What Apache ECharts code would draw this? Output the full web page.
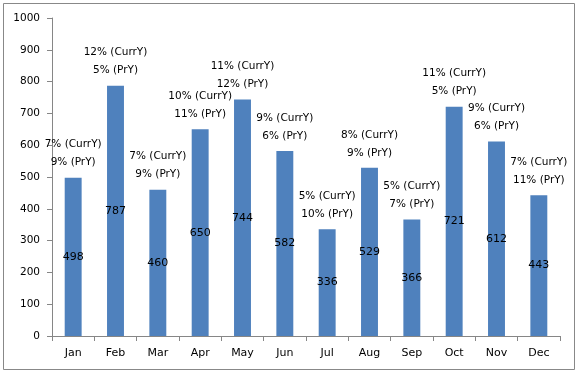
<!DOCTYPE html>
<html>
<head>
<meta charset="utf-8">
<script src="https://cdn.jsdelivr.net/npm/echarts@6/dist/echarts.min.js"></script>
<style>
    html, body { margin: 0; padding: 0; background: #fff; }
    #chart { width: 579px; height: 375px; }
</style>
</head>
<body>
<div id="chart"></div>
<script>
// data
const months = ['Jan','Feb','Mar','Apr','May','Jun','Jul','Aug','Sep','Oct','Nov','Dec']
const sales = [498, 787, 460, 650, 744, 582, 336, 529, 366, 721, 612, 443]
const currY = [7, 12, 7, 10, 11, 9, 5, 8, 5, 11, 9, 7]
const prY = [9, 5, 9, 11, 12, 6, 10, 9, 7, 5, 6, 11]
const yTicks = [0, 1000, 100]

const fontFam = 'DejaVu Sans, Verdana, sans-serif'
const chart = echarts.init(document.getElementById('chart'))

const option = {
    animation: false,
    backgroundColor: '#fff',
    textStyle: { fontFamily: fontFam },
    graphic: [
        {
            type: 'rect',
            shape: { x: 3.5, y: 3.5, width: 571, height: 366 },
            style: { fill: 'none', stroke: '#888', lineWidth: 1 },
            z: 0
        }
    ],
    grid: { left: 52, right: 19, top: 18, bottom: 39 },
    xAxis: {
        type: 'category',
        data: months,
        axisLine: { lineStyle: { color: '#868686' } },
        axisTick: { show: true, length: 5, alignWithLabel: false, lineStyle: { color: '#868686' } },
        axisLabel: { color: '#000', fontSize: 11, margin: 12, fontFamily: fontFam }
    },
    yAxis: {
        type: 'value',
        min: yTicks[0],
        max: yTicks[1],
        interval: yTicks[2],
        axisLine: { show: true, lineStyle: { color: '#868686' } },
        axisTick: { show: true, length: 5, lineStyle: { color: '#868686' } },
        splitLine: { show: false },
        axisLabel: {
            color: '#000',
            fontSize: 10.5,
            margin: 12,
            fontFamily: fontFam,
            formatter: v => String(v)
        }
    },
    series: [
        {
            // bars with the value in the middle
            type: 'bar',
            data: sales,
            barWidth: '40%',
            itemStyle: { color: '#4F81BD' },
            label: {
                show: true,
                position: 'inside',
                color: '#000',
                fontSize: 11,
                fontFamily: fontFam
            },
            z: 2
        },
        {
            // same bars again, only for the two-line label on top
            type: 'bar',
            data: sales,
            barWidth: '40%',
            barGap: '-100%',
            itemStyle: { color: 'transparent' },
            label: {
                show: true,
                position: 'top',
                distance: 6,
                color: '#000',
                fontSize: 10.5,
                lineHeight: 18,
                fontFamily: fontFam,
                formatter: p => currY[p.dataIndex] + '% (CurrY)\n' + prY[p.dataIndex] + '% (PrY)'
            },
            z: 3
        }
    ]
}
chart.setOption(option)
</script>
</body>
</html>
